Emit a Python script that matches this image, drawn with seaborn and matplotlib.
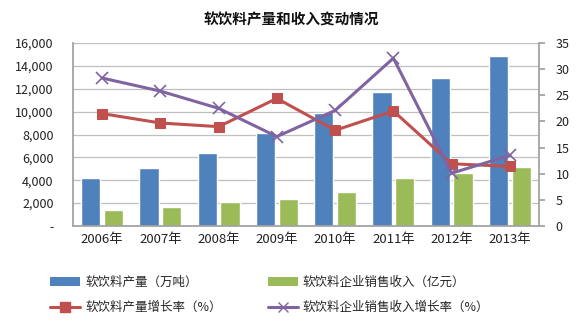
import matplotlib
matplotlib.use("Agg")
import matplotlib.pyplot as plt
import seaborn as sns
import pandas as pd
import numpy as np
from matplotlib.patches import Patch
from matplotlib.lines import Line2D
from matplotlib.ticker import FuncFormatter, MultipleLocator

years = ["2006年", "2007年", "2008年", "2009年", "2010年", "2011年", "2012年", "2013年"]
output = [4200, 5100, 6400, 8100, 9900, 11700, 12950, 14900]
revenue = [1400, 1650, 2100, 2400, 2950, 4200, 4650, 5200]
output_growth = [21.5, 19.7, 19.0, 24.4, 18.3, 22.0, 11.9, 11.4]
revenue_growth = [28.3, 25.8, 22.5, 17.1, 22.1, 32.1, 10.1, 13.5]

name_out = "软饮料产量（万吨）"
name_rev = "软饮料企业销售收入（亿元）"
name_og = "软饮料产量增长率（%）"
name_rg = "软饮料企业销售收入增长率（%）"

c_blue = "#4F81BD"
c_green = "#9BBB59"
c_red = "#C0504D"
c_purple = "#8064A2"

sns.set_theme(style="white")
plt.rcParams['font.family'] = ['Noto Sans CJK SC', 'DejaVu Sans']

bars = pd.DataFrame({
    "year": years * 2,
    "value": output + revenue,
    "series": [name_out] * len(years) + [name_rev] * len(years),
})

fig = plt.figure(figsize=(5.79, 3.22), dpi=100)
ax = fig.add_axes([73 / 579, (322 - 226) / 322, 466 / 579, 183 / 322])

sns.barplot(data=bars, x="year", y="value", hue="series", order=years,
            palette=[c_blue, c_green], width=0.78, gap=0.15, ax=ax,
            legend=False, saturation=1, errorbar=None)

ax.set_ylim(0, 16000)
ax.yaxis.set_major_locator(MultipleLocator(2000))
ax.yaxis.set_major_formatter(FuncFormatter(lambda v, p: "-" if v == 0 else f"{int(v):,}"))
ax.grid(axis="y", color="#BFBFBF", linewidth=0.9)
ax.set_axisbelow(True)
ax.set_xlabel("")
ax.set_ylabel("")
for s in ["top", "right"]:
    ax.spines[s].set_visible(False)
ax.spines["left"].set_color("#A0A0A0")
ax.spines["bottom"].set_color("#A0A0A0")
ax.tick_params(axis="y", labelsize=9, pad=14, length=0, colors="#222222")
ax.tick_params(axis="x", labelsize=9.5, pad=5, length=0, colors="#222222")

ax2 = ax.twinx()
lines = pd.DataFrame({"year": years, "og": output_growth, "rg": revenue_growth})
sns.lineplot(data=lines, x="year", y="og", sort=False, color=c_red, linewidth=2.2,
             marker="s", markersize=7, markeredgecolor=c_red, ax=ax2)
sns.lineplot(data=lines, x="year", y="rg", sort=False, color=c_purple, linewidth=2.2,
             marker="x", markersize=8, markeredgewidth=1.2, markeredgecolor=c_purple, ax=ax2)
ax2.set_ylim(0, 35)
ax2.set_xlim(-0.5, len(years) - 0.5)
ax.set_xlim(-0.5, len(years) - 0.5)
ax2.yaxis.set_major_locator(MultipleLocator(5))
ax2.set_ylabel("")
ax2.set_xlabel("")
for s in ["top", "left", "bottom"]:
    ax2.spines[s].set_visible(False)
ax2.spines["right"].set_color("#A0A0A0")
ax2.tick_params(axis="y", labelsize=9, length=4, color="#A0A0A0", pad=8, colors="#222222")
ax2.tick_params(axis="y", which="both", right=True)
ax2.grid(False)

fig.text(291 / 579, 1 - 19 / 322, "软饮料产量和收入变动情况", ha="center", va="center",
         fontsize=10.5, fontweight="bold", color="#111111")

h_out = Patch(facecolor=c_blue, edgecolor="none")
h_rev = Patch(facecolor=c_green, edgecolor="none")
h_og = Line2D([0], [0], color=c_red, linewidth=2.2, marker="s", markersize=7)
h_rg = Line2D([0], [0], color=c_purple, linewidth=2.2, marker="x", markersize=7, markeredgewidth=1.0)
fig.legend([h_out, h_og, h_rev, h_rg], [name_out, name_og, name_rev, name_rg],
           ncol=2, loc="center left", bbox_to_anchor=(44 / 579, 1 - 295 / 322),
           frameon=False, fontsize=9, columnspacing=3.7, handlelength=2.4,
           handletextpad=0.4, labelspacing=0.95, borderpad=0)

fig.savefig("out.png", dpi=100)
